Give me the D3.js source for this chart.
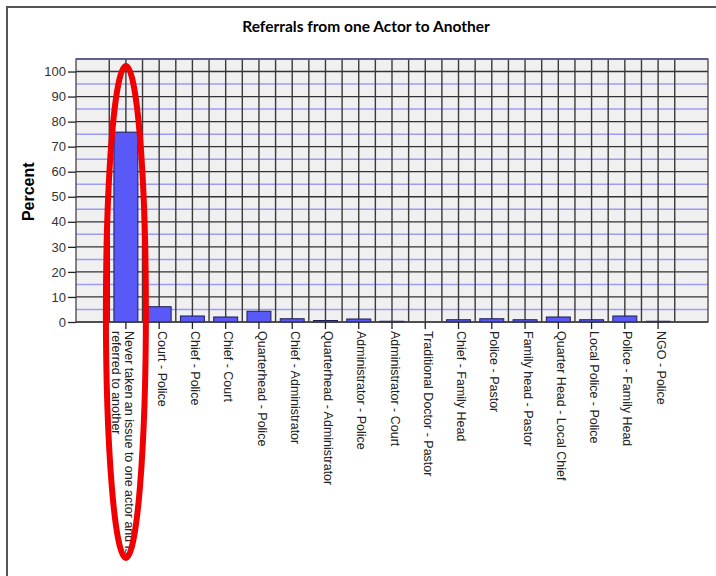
<!DOCTYPE html>
<html>
<head>
<meta charset="utf-8">
<script src="https://cdnjs.cloudflare.com/ajax/libs/d3/7.8.5/d3.min.js"></script>
<style>
  body { margin: 0; background: #fff; }
  svg { display: block; }
</style>
</head>
<body>
<div id="chart"></div>
<script>
var categories = [
  "Never taken an issue to one actor and is|referred to another",
  "Court - Police",
  "Chief - Police",
  "Chief - Court",
  "Quarterhead - Police",
  "Chief - Administrator",
  "Quarterhead - Administrator",
  "Administrator - Police",
  "Administrator - Court",
  "Traditional Doctor - Pastor",
  "Chief - Family Head",
  "Police - Pastor",
  "Family head - Pastor",
  "Quarter Head - Local Chief",
  "Local Police - Police",
  "Police - Family Head",
  "NGO - Police"
];
var percents = [75.8, 6.1, 2.4, 2.0, 4.3, 1.3, 0.6, 1.2, 0.3, 0.0, 0.9, 1.3, 0.9, 2.0, 0.9, 2.4, 0.3];
var yTicks = [0, 10, 20, 30, 40, 50, 60, 70, 80, 90, 100];
var yMinor = [5, 15, 25, 35, 45, 55, 65, 75, 85, 95];

var width = 716, height = 576;
var margin = {left: 76, right: 8, top: 59, bottom: 254};

var svg = d3.select("#chart").append("svg")
    .attr("width", width)
    .attr("height", height);

// outer frame (top and left edges)
svg.append("path")
    .attr("d", "M7,576 V7 H716")
    .attr("fill", "none")
    .attr("stroke", "#555")
    .attr("stroke-width", 2);

svg.append("text")
    .attr("x", 366)
    .attr("y", 32)
    .attr("text-anchor", "middle")
    .style("font-family", "Lato, 'Open Sans', sans-serif")
    .style("font-weight", "bold")
    .style("font-size", "15.5px")
    .text("Referrals from one Actor to Another");

var x = d3.scaleBand()
    .domain(categories)
    .range([margin.left, width - margin.right])
    .paddingInner(0)
    .paddingOuter(1);
var step = x.step();

var y = d3.scaleLinear()
    .domain([0, 105])
    .range([height - margin.bottom, margin.top]);

var plotW = width - margin.right - margin.left;

// panel background
svg.append("rect")
    .attr("x", margin.left)
    .attr("y", y(105))
    .attr("width", plotW)
    .attr("height", y(0) - y(105))
    .attr("fill", "#f0f0f0");

// blue minor horizontal lines
svg.append("g").selectAll("line")
    .data(yMinor)
    .enter().append("line")
    .attr("x1", margin.left)
    .attr("x2", width - margin.right)
    .attr("y1", function (d) { return y(d); })
    .attr("y2", function (d) { return y(d); })
    .attr("stroke", "#9c9cf5")
    .attr("stroke-width", 1.5);

// black major horizontal lines
svg.append("g").selectAll("line")
    .data(yTicks)
    .enter().append("line")
    .attr("x1", margin.left)
    .attr("x2", width - margin.right)
    .attr("y1", function (d) { return y(d); })
    .attr("y2", function (d) { return y(d); })
    .attr("stroke", "#333")
    .attr("stroke-width", 1.3);

// vertical grid lines: band edges and centres
var vLines = [];
categories.forEach(function (c) {
    vLines.push(x(c));
    vLines.push(x(c) + step / 2);
});
vLines.push(x(categories[categories.length - 1]) + step);

svg.append("g").selectAll("line")
    .data(vLines)
    .enter().append("line")
    .attr("x1", function (d) { return d; })
    .attr("x2", function (d) { return d; })
    .attr("y1", y(105))
    .attr("y2", y(0))
    .attr("stroke", "#3a3a3a")
    .attr("stroke-width", 1.4);

// bars
var barW = step * 0.72;
svg.append("g").selectAll("rect")
    .data(percents)
    .enter().append("rect")
    .attr("x", function (d, i) { return x(categories[i]) + (step - barW) / 2; })
    .attr("y", function (d) { return y(d); })
    .attr("width", barW)
    .attr("height", function (d) { return y(0) - y(d); })
    .attr("fill", "#5959f7")
    .attr("stroke", "#1c1c55")
    .attr("stroke-width", 1);

// panel border (top edge bluish)
svg.append("rect")
    .attr("x", margin.left)
    .attr("y", y(105))
    .attr("width", plotW)
    .attr("height", y(0) - y(105))
    .attr("fill", "none")
    .attr("stroke", "#444")
    .attr("stroke-width", 1.3);
svg.append("line")
    .attr("x1", margin.left)
    .attr("x2", width - margin.right)
    .attr("y1", y(105))
    .attr("y2", y(105))
    .attr("stroke", "#55559a")
    .attr("stroke-width", 1.5);

// y axis
var yAxis = svg.append("g")
    .attr("transform", "translate(" + margin.left + ",0)")
    .call(d3.axisLeft(y).tickValues(yTicks).tickSize(8).tickPadding(2));
yAxis.select(".domain").remove();
yAxis.selectAll("line").attr("stroke", "#222").attr("stroke-width", 1.3);
yAxis.selectAll("text")
    .style("font-family", "'Liberation Sans', Arial, sans-serif")
    .style("font-size", "13px")
    .attr("fill", "#333");

svg.append("text")
    .attr("transform", "translate(34," + y(52) + ") rotate(-90)")
    .attr("text-anchor", "middle")
    .style("font-family", "'Liberation Sans', Arial, sans-serif")
    .style("font-weight", "bold")
    .style("font-size", "16px")
    .text("Percent");

// x axis
var xAxis = svg.append("g")
    .attr("transform", "translate(0," + y(0) + ")")
    .call(d3.axisBottom(x).tickSize(7).tickFormat(""));
xAxis.select(".domain").remove();
xAxis.selectAll("line").attr("stroke", "#222").attr("stroke-width", 1.3);

var labels = svg.append("g").selectAll("text")
    .data(categories)
    .enter().append("text")
    .attr("transform", function (d) {
        return "translate(" + (x(d) + step / 2 + 3) + "," + (y(0) + 9) + ") rotate(90)";
    })
    .attr("text-anchor", "start")
    .style("font-family", "'Liberation Sans', Arial, sans-serif")
    .style("font-size", "12.5px")
    .attr("fill", "#222");

labels.each(function (d) {
    var parts = d.split("|");
    var t = d3.select(this);
    parts.forEach(function (p, k) {
        t.append("tspan")
            .attr("x", 0)
            .attr("y", k * 13)
            .attr("dy", "0.35em")
            .text(p);
    });
});

// red highlight ellipse around the first category
svg.append("ellipse")
    .attr("cx", x(categories[0]) + step / 2)
    .attr("cy", 312)
    .attr("rx", 20)
    .attr("ry", 246)
    .attr("fill", "none")
    .attr("stroke", "#f00000")
    .attr("stroke-width", 6);
</script>
</body>
</html>
